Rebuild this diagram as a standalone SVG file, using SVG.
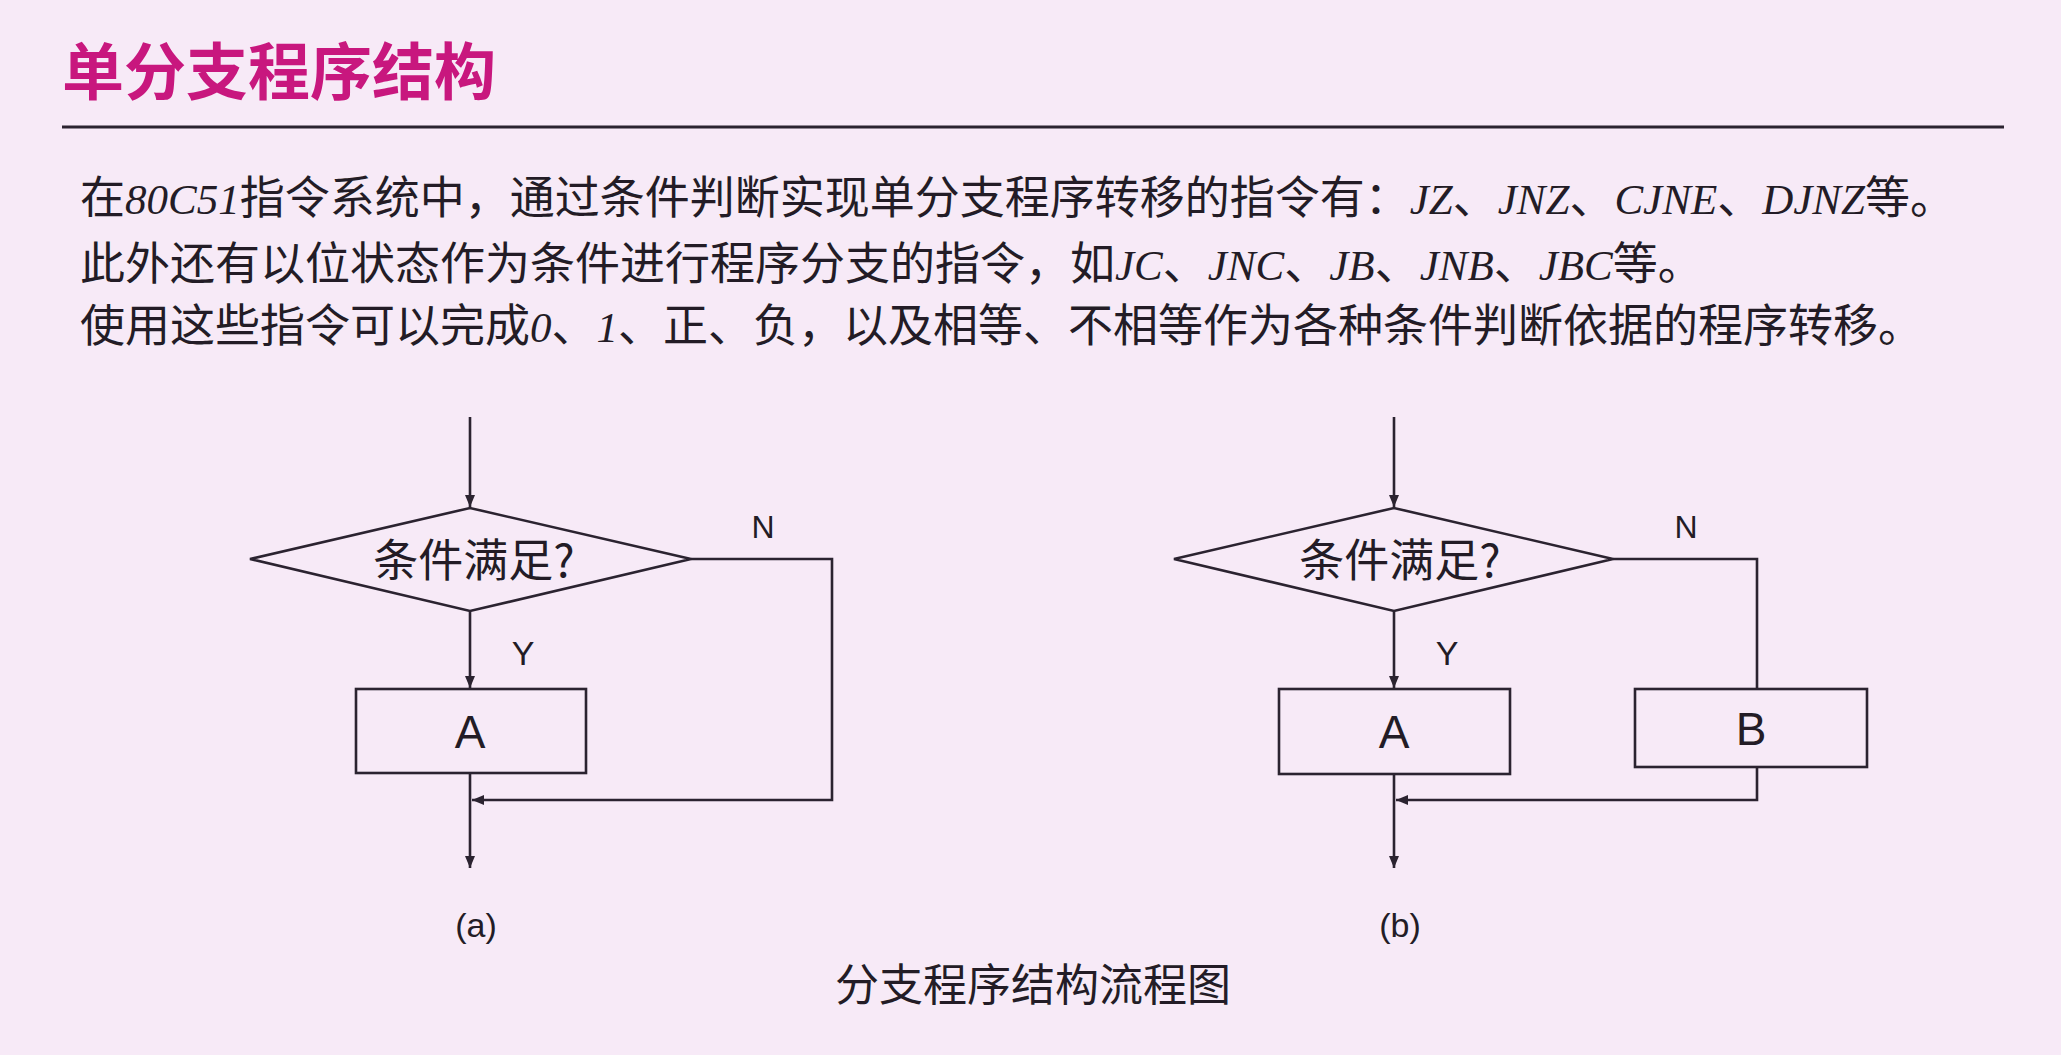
<svg xmlns="http://www.w3.org/2000/svg" width="2061" height="1055" viewBox="0 0 2061 1055">
<defs>
<style>
.cjk{font-family:"Noto Sans CJK SC","Noto Sans",sans-serif;fill:#231c26}
.title{font-family:"Noto Sans CJK SC",sans-serif;font-weight:700;font-size:62px;fill:#c8177e}
.body{font-size:45px}
.lat{font-family:"Liberation Serif",serif;font-style:italic;font-size:43px}
.lbl{font-family:"Liberation Sans",Arial,sans-serif;fill:#231c26;text-anchor:middle}
.shape{fill:none;stroke:#2b2330;stroke-width:2.6}
.conn{fill:none;stroke:#2b2330;stroke-width:2.6}
</style>
<marker id="arr" markerUnits="userSpaceOnUse" markerWidth="14" markerHeight="12" refX="12" refY="5" orient="auto">
<path d="M0,0 L12,5 L0,10 Z" fill="#2b2330"/>
</marker>
</defs>
<rect x="0" y="0" width="2061" height="1055" fill="#f7eaf7"/>

<g id="header">
<text class="title" x="62" y="95">单分支程序结构</text>
<line x1="62" y1="127" x2="2004" y2="127" stroke="#2b2330" stroke-width="3"/>
</g>

<g id="paragraph">
<text class="cjk body" x="80" y="214">在<tspan class="lat">80C51</tspan>指令系统中，通过条件判断实现单分支程序转移的指令有：<tspan class="lat">JZ</tspan>、<tspan class="lat">JNZ</tspan>、<tspan class="lat">CJNE</tspan>、<tspan class="lat">DJNZ</tspan>等。</text>
<text class="cjk body" x="80" y="280">此外还有以位状态作为条件进行程序分支的指令，如<tspan class="lat">JC</tspan>、<tspan class="lat">JNC</tspan>、<tspan class="lat">JB</tspan>、<tspan class="lat">JNB</tspan>、<tspan class="lat">JBC</tspan>等。</text>
<text class="cjk body" x="80" y="342">使用这些指令可以完成<tspan class="lat">0</tspan>、<tspan class="lat">1</tspan>、正、负，以及相等、不相等作为各种条件判断依据的程序转移。</text>
</g>

<g id="connectors">
<path class="conn" d="M470,417 V507" marker-end="url(#arr)"/>
<path class="conn" d="M470,612 V688" marker-end="url(#arr)"/>
<path class="conn" d="M691,559 H832 V800 H472" marker-end="url(#arr)"/>
<path class="conn" d="M470,773 V868" marker-end="url(#arr)"/>
<path class="conn" d="M1394,417 V507" marker-end="url(#arr)"/>
<path class="conn" d="M1394,612 V688" marker-end="url(#arr)"/>
<path class="conn" d="M1613,559 H1757 V689"/>
<path class="conn" d="M1757,767 V800 H1396" marker-end="url(#arr)"/>
<path class="conn" d="M1394,774 V868" marker-end="url(#arr)"/>
</g>

<g id="a-decision">
<polygon class="shape" points="250,559 470,508 691,559 470,611"/>
<text class="cjk" x="474" y="577" font-size="45" text-anchor="middle">条件满足?</text>
</g>
<g id="a-boxA">
<rect class="shape" x="356" y="689" width="230" height="84"/>
<text class="lbl" x="470" y="748" font-size="46">A</text>
</g>
<g id="a-labels">
<text class="lbl" x="763" y="538" font-size="32">N</text>
<text class="lbl" x="523" y="665" font-size="34">Y</text>
<text class="lbl" x="476" y="937" font-size="34">(a)</text>
</g>

<g id="b-decision">
<polygon class="shape" points="1174,559 1394,508 1613,559 1394,611"/>
<text class="cjk" x="1400" y="577" font-size="45" text-anchor="middle">条件满足?</text>
</g>
<g id="b-boxA">
<rect class="shape" x="1279" y="689" width="231" height="85"/>
<text class="lbl" x="1394" y="748" font-size="46">A</text>
</g>
<g id="b-boxB">
<rect class="shape" x="1635" y="689" width="232" height="78"/>
<text class="lbl" x="1751" y="745" font-size="46">B</text>
</g>
<g id="b-labels">
<text class="lbl" x="1686" y="538" font-size="32">N</text>
<text class="lbl" x="1447" y="665" font-size="34">Y</text>
<text class="lbl" x="1400" y="937" font-size="34">(b)</text>
</g>

<g id="caption">
<text class="cjk" x="1033" y="1001" font-size="44" text-anchor="middle">分支程序结构流程图</text>
</g>
</svg>
